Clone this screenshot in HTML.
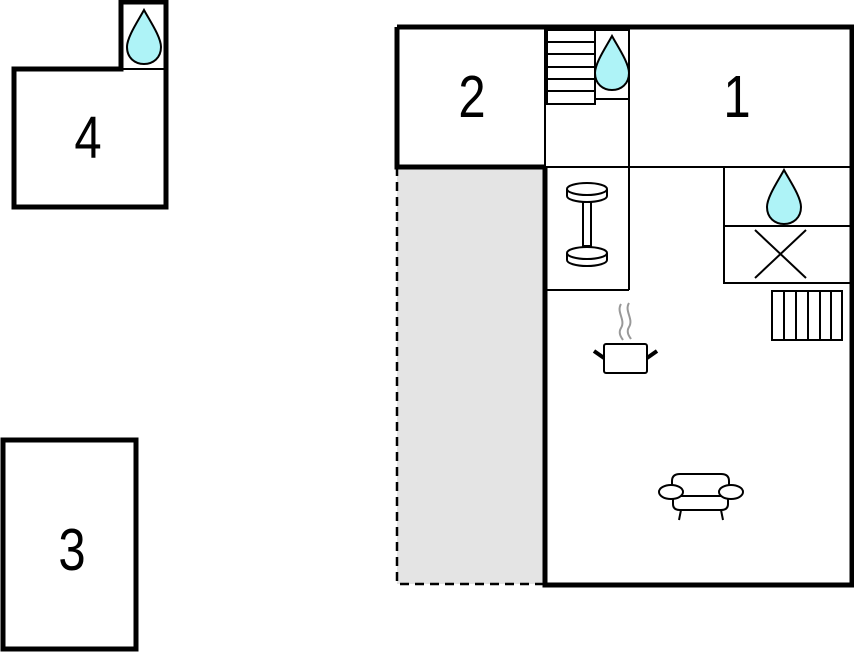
<!DOCTYPE html>
<html><head><meta charset="utf-8"><style>
html,body{margin:0;padding:0;background:#fff;width:854px;height:652px;overflow:hidden}
svg{display:block}
text{font-family:"Liberation Sans",sans-serif;font-size:49px;fill:#000}
</style></head><body>
<svg width="854" height="652" viewBox="0 0 854 652" xmlns="http://www.w3.org/2000/svg">
<defs>
<path id="drop" d="M0,-27 C-6,-16 -17,0 -17,10 C-17,21 -9,27 0,27 C9,27 17,21 17,10 C17,0 6,-16 0,-27 Z" fill="#aef3f7" stroke="#000" stroke-width="2"/>
</defs>
<rect x="397" y="167" width="148" height="417" fill="#e4e4e4"/>
<path d="M397,167 V584 H545" fill="none" stroke="#000" stroke-width="2.5" stroke-dasharray="9,6"/>

<g stroke="#000" stroke-width="2" fill="none">
<line x1="545" y1="27" x2="545" y2="167"/>
<line x1="629" y1="27" x2="629" y2="290"/>
<line x1="545" y1="167" x2="852" y2="167"/>
<line x1="545" y1="290" x2="629" y2="290"/>
<rect x="547" y="30" width="48" height="74"/>
<line x1="547" y1="42" x2="595" y2="42"/>
<line x1="547" y1="54" x2="595" y2="54"/>
<line x1="547" y1="67" x2="595" y2="67"/>
<line x1="547" y1="79" x2="595" y2="79"/>
<line x1="547" y1="91" x2="595" y2="91"/>
<rect x="595" y="30" width="34" height="69"/>
<rect x="724" y="167" width="128" height="116"/>
<line x1="724" y1="226" x2="852" y2="226"/>
<line x1="755" y1="230" x2="806" y2="278"/>
<line x1="806" y1="230" x2="755" y2="278"/>
<rect x="772" y="291" width="70" height="49"/>
<line x1="784" y1="291" x2="784" y2="340"/>
<line x1="796" y1="291" x2="796" y2="340"/>
<line x1="808" y1="291" x2="808" y2="340"/>
<line x1="820" y1="291" x2="820" y2="340"/>
<line x1="831" y1="291" x2="831" y2="340"/>
<line x1="121" y1="69" x2="166" y2="69"/>
</g>

<g stroke="#000" stroke-width="5" fill="none">
<path d="M397,27 H852 V585 H545 V167"/>
<path d="M397,27 V167 H545"/>
<path d="M14,69 H121 V2 H166 V207 H14 Z"/>
<rect x="3" y="440" width="133" height="209"/>
</g>

<use href="#drop" x="144" y="37"/>
<use href="#drop" x="612" y="63"/>
<use href="#drop" x="784" y="197"/>

<g stroke="#000" stroke-width="2" fill="#fff">
<rect x="583" y="196" width="8" height="50"/>
<path d="M567,189 V196 A20,6 0 0 0 607,196 V189"/>
<ellipse cx="587" cy="189" rx="20" ry="6"/>
<path d="M567,253 V260 A20,6 0 0 0 607,260 V253"/>
<ellipse cx="587" cy="253" rx="20" ry="6"/>
</g>

<g fill="none">
<path d="M621,304 C616,312 626,320 621,328 C618,333 621,337 623,340 M629,303 C624,311 634,319 629,327 C626,332 629,336 631,339" stroke="#999" stroke-width="2"/>
<rect x="604" y="344" width="43" height="29" rx="2" stroke="#000" stroke-width="2"/>
<line x1="594" y1="351" x2="604" y2="358" stroke="#000" stroke-width="4"/>
<line x1="647" y1="358" x2="657" y2="351" stroke="#000" stroke-width="4"/>
</g>

<g stroke="#000" stroke-width="2" fill="#fff">
<path d="M672,492 V481 Q672,474 680,474 H721 Q729,474 729,481 V492"/>
<path d="M673,497 V504 Q673,510 680,510 H721 Q728,510 728,504 V497"/>
<line x1="673" y1="496" x2="728" y2="496"/>
<ellipse cx="671" cy="492" rx="12" ry="7"/>
<ellipse cx="731" cy="492" rx="12" ry="7"/>
<line x1="681" y1="510" x2="679" y2="520"/>
<line x1="721" y1="510" x2="723" y2="520"/>
</g>

<text transform="translate(472,117) scale(1,1.22)" text-anchor="middle">2</text>
<text transform="translate(737,117) scale(1,1.22)" text-anchor="middle">1</text>
<text transform="translate(88,158) scale(1,1.22)" text-anchor="middle">4</text>
<text transform="translate(72,570) scale(1,1.22)" text-anchor="middle">3</text>
</svg>
</body></html>
